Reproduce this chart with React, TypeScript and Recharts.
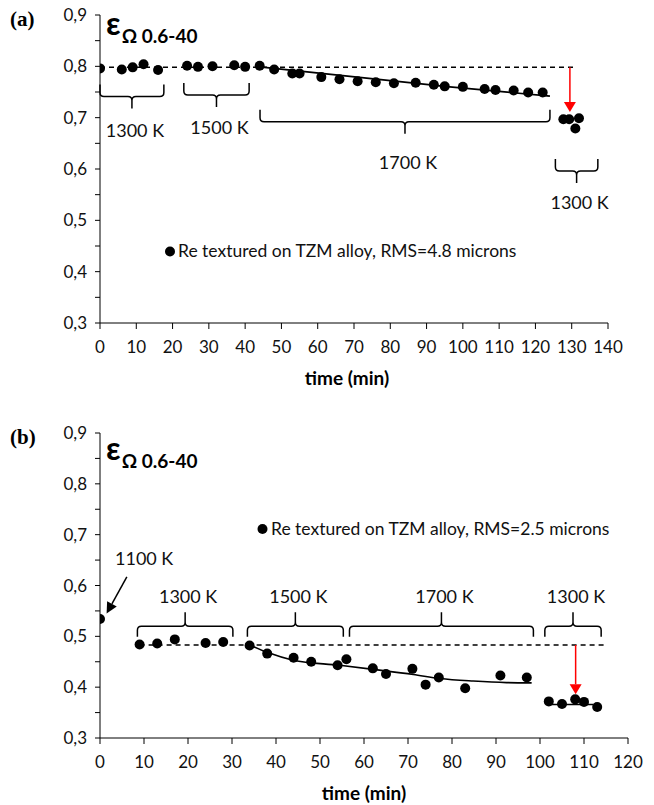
import React from "react";
import {
  ComposedChart,
  Scatter,
  Line,
  XAxis,
  YAxis,
  ReferenceLine,
  Label,
} from "recharts";

// ---- panel (a): Re textured on TZM, RMS 4.8 um ----
const timeA = [0, 6, 9, 12, 16, 24, 27, 31, 37, 40, 44, 48, 53, 55, 61, 66, 71, 76, 81, 87, 92, 95, 100, 106, 109, 114, 118, 122, 127.7, 129.3, 132, 131];
const epsA = [0.796, 0.794, 0.798, 0.804, 0.793, 0.801, 0.799, 0.8, 0.802, 0.799, 0.801, 0.794, 0.786, 0.786, 0.779, 0.775, 0.771, 0.769, 0.767, 0.768, 0.764, 0.761, 0.76, 0.756, 0.754, 0.753, 0.749, 0.749, 0.697, 0.697, 0.699, 0.679];
const trendTimeA = [44, 96.4, 124];
const trendEpsA = [0.799, 0.76, 0.742];
const baseTimeA = [0, 131.3];
const baseEpsA = [0.798, 0.798];
const dropTimeA = 129.5;
const dropEpsA = [0.798, 0.711];

const braceLabelsA = ["1300 K", "1500 K", "1700 K", "1300 K"];
const braceFromA = [0, 23.1, 44.1, 125.5];
const braceToA = [17.6, 41.1, 124, 137.2];
const braceEpsA = [0.741, 0.744, 0.692, 0.596];
const braceLabelGapA = [40, 39, 47, 38];

// ---- panel (b): Re textured on TZM, RMS 2.5 um ----
const timeB = [0, 9, 13, 17, 24, 28, 34, 38, 44, 48, 54, 56, 62, 65, 71, 74, 77, 83, 91, 97, 102, 105, 108, 110, 113];
const epsB = [0.534, 0.484, 0.486, 0.494, 0.487, 0.489, 0.482, 0.466, 0.458, 0.45, 0.443, 0.455, 0.437, 0.426, 0.436, 0.405, 0.419, 0.398, 0.423, 0.419, 0.372, 0.367, 0.376, 0.371, 0.361];
const trendTimeB = [34.1, 38.3, 43.9, 54.5, 62.1, 71.2, 77.3, 84.8, 92.4, 98.1];
const trendEpsB = [0.4827, 0.4675, 0.453, 0.443, 0.435, 0.425, 0.417, 0.412, 0.409, 0.4085];
const lowTimeB = [102.3, 112.1];
const lowEpsB = [0.366, 0.366];
const baseTimeB = [9, 115.2];
const baseEpsB = [0.483, 0.483];
const dropTimeB = 108.1;
const dropEpsB = [0.483, 0.386];
const startArrowTimeB = [6.1, 1.5];
const startArrowEpsB = [0.617, 0.545];

const braceLabelsB = ["1300 K", "1500 K", "1700 K", "1300 K"];
const braceFromB = [8.5, 33.5, 56.7, 101.1];
const braceToB = [30.2, 55.3, 98.5, 113.9];
const braceEpsB = [0.52, 0.52, 0.52, 0.52];

const xTicksA = [0, 10, 20, 30, 40, 50, 60, 70, 80, 90, 100, 110, 120, 130, 140];
const xTicksB = [0, 10, 20, 30, 40, 50, 60, 70, 80, 90, 100, 110, 120];
const yTicks = [0.3, 0.35, 0.4, 0.45, 0.5, 0.55, 0.6, 0.65, 0.7, 0.75, 0.8, 0.85, 0.9];

const legendA = "Re textured on TZM alloy, RMS=4.8 microns";
const legendB = "Re textured on TZM alloy, RMS=2.5 microns";

const FONT = "Lato";

const toPoints = (xs: number[], ys: number[]) => xs.map((x, i) => ({ x, y: ys[i] }));

const yLabel = (v: number) =>
  Math.round(v * 100) % 10 === 0 ? v.toFixed(1).replace(".", ",") : "";

type SegProps = { x1?: number; y1?: number; x2?: number; y2?: number };

const Dot = (props: { cx?: number; cy?: number }) => (
  <circle cx={props.cx} cy={props.cy} r={5} fill="#000" />
);

// curly brace along a horizontal segment; ends/tip are pixel offsets
const makeBrace = (label: string, ends: number, tip: number, textDy: number) =>
  (p: SegProps) => {
    const x1 = Number(p.x1);
    const x2 = Number(p.x2);
    const y = Number(p.y1);
    const cx = (x1 + x2) / 2;
    const r = 4;
    const se = Math.sign(ends);
    const st = Math.sign(tip);
    const d = [
      `M${x1},${y + ends}`,
      `L${x1},${y + se * r}`,
      `Q${x1},${y} ${x1 + r},${y}`,
      `L${cx - r},${y}`,
      `Q${cx},${y} ${cx},${y + st * r}`,
      `L${cx},${y + tip}`,
      `M${cx},${y + st * r}`,
      `Q${cx},${y} ${cx + r},${y}`,
      `L${x2 - r},${y}`,
      `Q${x2},${y} ${x2},${y + se * r}`,
      `L${x2},${y + ends}`,
    ].join(" ");
    return (
      <g>
        <path d={d} fill="none" stroke="#000" strokeWidth={1.5} />
        <text x={cx + 3} y={y + textDy} textAnchor="middle" fontFamily={FONT} fontSize={18} fill="#111">
          {label}
        </text>
      </g>
    );
  };

const makeArrow = (color: string, head: number, half: number) => (p: SegProps) => {
  const x1 = Number(p.x1);
  const y1 = Number(p.y1);
  const x2 = Number(p.x2);
  const y2 = Number(p.y2);
  const len = Math.hypot(x2 - x1, y2 - y1) || 1;
  const ux = (x2 - x1) / len;
  const uy = (y2 - y1) / len;
  const bx = x2 - ux * head;
  const by = y2 - uy * head;
  const px = -uy * half;
  const py = ux * half;
  return (
    <g>
      <line x1={x1} y1={y1} x2={bx} y2={by} stroke={color} strokeWidth={1.5} />
      <polygon points={`${x2},${y2} ${bx + px},${by + py} ${bx - px},${by - py}`} fill={color} />
    </g>
  );
};

const axisTick = { fill: "#111", fontSize: 17, fontFamily: FONT };

export default function App() {
  return (
    <div style={{ position: "absolute", left: 0, top: 0, width: 654, height: 805, background: "#fff" }}>
      {/* (a) */}
      <div style={{ position: "absolute", left: 0, top: 0 }}>
        <ComposedChart width={654} height={400} margin={{ top: 15, right: 46, bottom: 15, left: 40 }}>
          <XAxis
            type="number"
            dataKey="x"
            domain={[0, 140]}
            ticks={xTicksA}
            interval={0}
            height={62}
            tickSize={6}
            tickMargin={12}
            stroke="#000"
            tick={axisTick}
            allowDataOverflow
          >
            <Label value="time (min)" position="insideBottom" offset={0} dx={-7} fontSize={19} fontWeight={700} fontFamily={FONT} fill="#000" />
          </XAxis>
          <YAxis
            type="number"
            dataKey="y"
            domain={[0.3, 0.9]}
            ticks={yTicks}
            interval={0}
            width={60}
            tickSize={5}
            tickMargin={8}
            stroke="#000"
            tick={axisTick}
            tickFormatter={yLabel}
            allowDataOverflow
          />
          <Line data={toPoints(baseTimeA, baseEpsA)} dataKey="y" stroke="#000" strokeWidth={1.5} strokeDasharray="5 4" dot={false} isAnimationActive={false} />
          <Line data={toPoints(trendTimeA, trendEpsA)} dataKey="y" stroke="#000" strokeWidth={1.6} dot={false} isAnimationActive={false} />
          <Scatter data={toPoints(timeA, epsA)} dataKey="y" shape={Dot} isAnimationActive={false} />
          <ReferenceLine
            segment={[{ x: dropTimeA, y: dropEpsA[0] }, { x: dropTimeA, y: dropEpsA[1] }]}
            shape={makeArrow("#ff0000", 10, 6)}
          />
          {braceLabelsA.map((lab, i) => (
            <ReferenceLine
              key={`ba${i}`}
              segment={[{ x: braceFromA[i], y: braceEpsA[i] }, { x: braceToA[i], y: braceEpsA[i] }]}
              shape={makeBrace(lab, -12, 12, braceLabelGapA[i])}
            />
          ))}
        </ComposedChart>
      </div>

      {/* (b) */}
      <div style={{ position: "absolute", left: 0, top: 418 }}>
        <ComposedChart width={654} height={387} margin={{ top: 15, right: 26, bottom: 5, left: 40 }}>
          <XAxis
            type="number"
            dataKey="x"
            domain={[0, 120]}
            ticks={xTicksB}
            interval={0}
            height={62}
            tickSize={6}
            tickMargin={12}
            stroke="#000"
            tick={axisTick}
            allowDataOverflow
          >
            <Label value="time (min)" position="insideBottom" offset={0} fontSize={19} fontWeight={700} fontFamily={FONT} fill="#000" />
          </XAxis>
          <YAxis
            type="number"
            dataKey="y"
            domain={[0.3, 0.9]}
            ticks={yTicks}
            interval={0}
            width={60}
            tickSize={5}
            tickMargin={8}
            stroke="#000"
            tick={axisTick}
            tickFormatter={yLabel}
            allowDataOverflow
          />
          <Line data={toPoints(baseTimeB, baseEpsB)} dataKey="y" stroke="#000" strokeWidth={1.5} strokeDasharray="5 4" dot={false} isAnimationActive={false} />
          <Line data={toPoints(trendTimeB, trendEpsB)} dataKey="y" type="monotone" stroke="#000" strokeWidth={1.6} dot={false} isAnimationActive={false} />
          <Line data={toPoints(lowTimeB, lowEpsB)} dataKey="y" stroke="#000" strokeWidth={1.6} dot={false} isAnimationActive={false} />
          <Scatter data={toPoints(timeB, epsB)} dataKey="y" shape={Dot} isAnimationActive={false} />
          <ReferenceLine
            segment={[{ x: dropTimeB, y: dropEpsB[0] }, { x: dropTimeB, y: dropEpsB[1] }]}
            shape={makeArrow("#ff0000", 10, 6)}
          />
          <ReferenceLine
            segment={[{ x: startArrowTimeB[0], y: startArrowEpsB[0] }, { x: startArrowTimeB[1], y: startArrowEpsB[1] }]}
            shape={makeArrow("#000", 11, 5.5)}
          />
          {braceLabelsB.map((lab, i) => (
            <ReferenceLine
              key={`bb${i}`}
              segment={[{ x: braceFromB[i], y: braceEpsB[i] }, { x: braceToB[i], y: braceEpsB[i] }]}
              shape={makeBrace(lab, 10.7, -14, -23)}
            />
          ))}
        </ComposedChart>
      </div>

      {/* titles, panel letters, legends */}
      <svg width={654} height={805} style={{ position: "absolute", left: 0, top: 0, pointerEvents: "none" }}>
        <text x={10} y={26} fontFamily="Liberation Serif" fontWeight={700} fontSize={21} fill="#000">(a)</text>
        <text x={10} y={444} fontFamily="Liberation Serif" fontWeight={700} fontSize={21} fill="#000">(b)</text>

        <text x={106} y={35} fontFamily={FONT} fontWeight={700} fill="#000">
          <tspan fontSize={32}>ε</tspan>
          <tspan fontSize={19} dx={1} dy={8}>Ω 0.6-40</tspan>
        </text>
        <text x={106} y={460} fontFamily={FONT} fontWeight={700} fill="#000">
          <tspan fontSize={32}>ε</tspan>
          <tspan fontSize={19} dx={1} dy={8}>Ω 0.6-40</tspan>
        </text>

        <circle cx={170} cy={251.5} r={5} fill="#000" />
        <text x={178} y={257} fontFamily={FONT} fontSize={17.5} fill="#111">{legendA}</text>
        <circle cx={262.5} cy={529} r={5} fill="#000" />
        <text x={271} y={535} fontFamily={FONT} fontSize={17.5} fill="#111">{legendB}</text>

        <text x={115} y={565} fontFamily={FONT} fontSize={18} fill="#111">1100 K</text>
      </svg>
    </div>
  );
}
